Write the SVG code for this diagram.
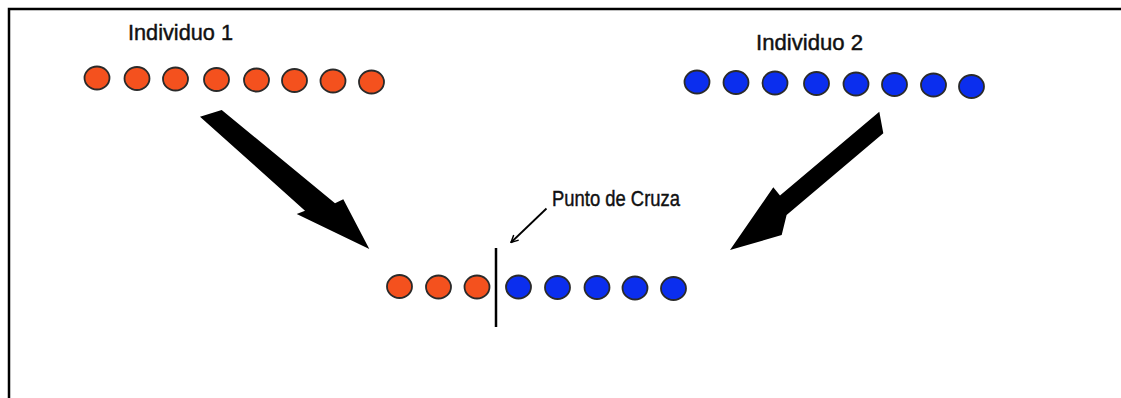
<svg xmlns="http://www.w3.org/2000/svg" width="1121" height="398" viewBox="0 0 1121 398">
  <defs>
    <style>
      .red { fill: #F4511E; stroke: #2a2a2a; stroke-width: 1.8; }
      .blue { fill: #0B2EEE; stroke: #2a2a2a; stroke-width: 1.8; }
      .lbl { font-family: "Liberation Sans", Arial, sans-serif; font-size: 22.5px; fill: #111111; stroke: #111111; stroke-width: 0.45; }
      .big { fill: #000000; }
    </style>
    <marker id="tip" viewBox="0 0 10 10" refX="9" refY="5" markerWidth="9" markerHeight="9" markerUnits="userSpaceOnUse" orient="auto">
      <path d="M1,1 L9,5 L1,9" fill="none" stroke="#000" stroke-width="1.6"/>
    </marker>
  </defs>
  <rect x="0" y="0" width="1121" height="398" fill="#ffffff"/>
  <path d="M9,398 V9 H1121" fill="none" stroke="#000000" stroke-width="2.5"/>

  <g id="individuo1">
    <text class="lbl" x="128" y="40" textLength="105" lengthAdjust="spacingAndGlyphs">Individuo 1</text>
    <ellipse class="red" cx="97" cy="78" rx="12.5" ry="11.5"/>
    <ellipse class="red" cx="137" cy="78.5" rx="12.5" ry="11.5"/>
    <ellipse class="red" cx="175.5" cy="79" rx="12.5" ry="11.5"/>
    <ellipse class="red" cx="216.5" cy="79.5" rx="12.5" ry="11.5"/>
    <ellipse class="red" cx="256.5" cy="80" rx="12.5" ry="11.5"/>
    <ellipse class="red" cx="294.5" cy="80.5" rx="12.5" ry="11.5"/>
    <ellipse class="red" cx="333" cy="81" rx="12.5" ry="11.5"/>
    <ellipse class="red" cx="371.5" cy="82" rx="12.5" ry="11.5"/>
  </g>

  <g id="individuo2">
    <text class="lbl" x="756" y="50" textLength="107" lengthAdjust="spacingAndGlyphs">Individuo 2</text>
    <ellipse class="blue" cx="697" cy="82" rx="12.5" ry="11.5"/>
    <ellipse class="blue" cx="736" cy="82.5" rx="12.5" ry="11.5"/>
    <ellipse class="blue" cx="775" cy="83" rx="12.5" ry="11.5"/>
    <ellipse class="blue" cx="816.5" cy="83.5" rx="12.5" ry="11.5"/>
    <ellipse class="blue" cx="856" cy="84" rx="12.5" ry="11.5"/>
    <ellipse class="blue" cx="894.5" cy="84.5" rx="12.5" ry="11.5"/>
    <ellipse class="blue" cx="933.5" cy="85" rx="12.5" ry="11.5"/>
    <ellipse class="blue" cx="971.5" cy="86.5" rx="12.5" ry="11.5"/>
  </g>

  <g id="descendiente">
    <ellipse class="red" cx="399.5" cy="286.5" rx="12.5" ry="11.5"/>
    <ellipse class="red" cx="438.5" cy="287" rx="12.5" ry="11.5"/>
    <ellipse class="red" cx="477" cy="287" rx="12.5" ry="11.5"/>
    <ellipse class="blue" cx="518.5" cy="287" rx="12.5" ry="11.5"/>
    <ellipse class="blue" cx="557.5" cy="287.5" rx="12.5" ry="11.5"/>
    <ellipse class="blue" cx="597" cy="287.5" rx="12.5" ry="11.5"/>
    <ellipse class="blue" cx="635" cy="288" rx="12.5" ry="11.5"/>
    <ellipse class="blue" cx="673.5" cy="288.5" rx="12.5" ry="11.5"/>
  </g>

  <g id="punto-de-cruza">
    <line x1="496" y1="248" x2="496" y2="327" stroke="#000000" stroke-width="2.5"/>
    <text class="lbl" x="552" y="206" textLength="128" lengthAdjust="spacingAndGlyphs">Punto de Cruza</text>
  </g>

  <g id="connectors">
    <polygon class="big" points="221.7,110 335,203.3 343.3,199.3 369.3,249 296.7,214 305,210.7 200,116.7"/>
    <polygon class="big" points="879.3,111.7 780,195.5 773.3,187.3 730,250 781.7,235 786.6,215 883.3,133.3"/>
    <line x1="546.5" y1="208.5" x2="511" y2="242.5" stroke="#000000" stroke-width="1.8" marker-end="url(#tip)"/>
  </g>
</svg>
